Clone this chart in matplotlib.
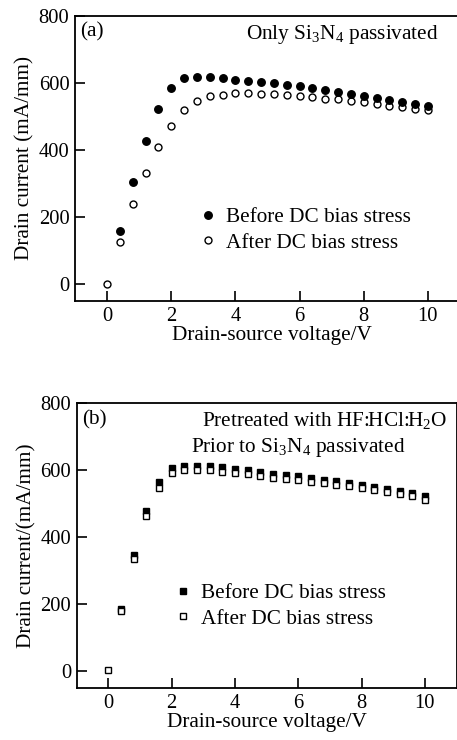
import numpy as np
import matplotlib
matplotlib.use('Agg')
import matplotlib.pyplot as plt

plt.rcParams['font.family'] = ['Liberation Serif', 'DejaVu Serif']
plt.rcParams['mathtext.fontset'] = 'custom'
plt.rcParams['mathtext.rm'] = 'Liberation Serif'
plt.rcParams['mathtext.default'] = 'rm'

# panel (a): only Si3N4 passivated
va_before = [0.4, 0.8, 1.2, 1.6, 2.0, 2.4, 2.8, 3.2, 3.6, 4.0, 4.4, 4.8, 5.2, 5.6, 6.0,
             6.4, 6.8, 7.2, 7.6, 8.0, 8.4, 8.8, 9.2, 9.6, 10.0]
ia_before = [160, 306, 426, 523, 585, 613, 618, 616, 613, 609, 606, 603, 598, 593, 589,
             584, 578, 573, 568, 561, 555, 549, 544, 536, 531]
va_after = [0.0] + va_before
ia_after = [0, 125, 240, 330, 410, 472, 518, 547, 562, 564, 569, 569, 567, 566, 565, 562,
            557, 553, 551, 547, 543, 538, 531, 527, 523, 518]

# panel (b): pretreated with HF:HCl:H2O
vb_before = va_before
ib_before = [187, 348, 478, 564, 607, 614, 614, 613, 609, 604, 600, 594, 590, 586, 582,
             576, 572, 567, 562, 556, 551, 544, 538, 532, 522]
vb_after = [0.0] + vb_before
ib_after = [5, 181, 335, 463, 547, 592, 602, 602, 600, 596, 591, 588, 583, 578, 575, 570,
            565, 561, 556, 552, 547, 542, 535, 529, 523, 512]

xticks = [0, 2, 4, 6, 8, 10]
yticks = [0, 200, 400, 600, 800]

fig = plt.figure(figsize=(4.57, 7.40), dpi=100)
ax1 = fig.add_axes([0.164, 0.593, 0.86, 0.386])
ax2 = fig.add_axes([0.168, 0.070, 0.831, 0.385])

fs = 15.3
tfs = 14.8


def style(ax, ylabel):
    ax.set_xlim(-1, 11)
    ax.set_ylim(-50, 800)
    ax.set_xticks(xticks)
    ax.set_yticks(yticks)
    ax.tick_params(direction='in', length=7, width=1.2, labelsize=tfs, pad=4)
    for s in ax.spines.values():
        s.set_linewidth(1.3)
    ax.set_xlabel('Drain-source voltage/V', fontsize=fs, labelpad=0)
    ax.set_ylabel(ylabel, fontsize=fs, labelpad=3)


ax1.plot(va_after, ia_after, 'o', ms=5, mfc='white', mec='black', mew=1.0,
         label='After DC bias stress', zorder=2)
ax1.plot(va_before, ia_before, 'o', ms=5.4, color='black',
         label='Before DC bias stress', zorder=3)
style(ax1, 'Drain current (mA/mm)')
# right edge of panel (a) is cropped in the original
ax1.set_xlim(-1, 11.25)
ax1.set_xticks(xticks)
h, l = ax1.get_legend_handles_labels()
ax1.legend(h[::-1], l[::-1], loc='upper left', bbox_to_anchor=(0.29, 0.365), frameon=False,
           fontsize=fs, handlelength=0.8, handletextpad=0.45, labelspacing=0.25, borderpad=0)
ax1.text(0.012, 0.975, '(a)', transform=ax1.transAxes, fontsize=fs, va='top', ha='left')
ax1.text(0.925, 0.975, r'Only Si$_3$N$_4$ passivated', transform=ax1.transAxes,
         fontsize=fs, va='top', ha='right')

ax2.plot(vb_after, ib_after, 's', ms=4.4, mfc='white', mec='black', mew=1.0,
         label='After DC bias stress', zorder=2)
ax2.plot(vb_before, ib_before, 's', ms=4.4, color='black',
         label='Before DC bias stress', zorder=1)
style(ax2, 'Drain current/(mA/mm)')
h, l = ax2.get_legend_handles_labels()
ax2.legend(h[::-1], l[::-1], loc='upper left', bbox_to_anchor=(0.23, 0.405), frameon=False,
           fontsize=fs, handlelength=0.8, handletextpad=0.45, labelspacing=0.25, borderpad=0)
ax2.text(0.015, 0.975, '(b)', transform=ax2.transAxes, fontsize=fs, va='top', ha='left')
ax2.text(0.976, 0.975, r'Pretreated with HF:HCl:H$_2$O', transform=ax2.transAxes,
         fontsize=fs, va='top', ha='right')
ax2.text(0.30, 0.885, r'Prior to Si$_3$N$_4$ passivated', transform=ax2.transAxes,
         fontsize=fs, va='top', ha='left')

fig.savefig('out.png', dpi=100)
